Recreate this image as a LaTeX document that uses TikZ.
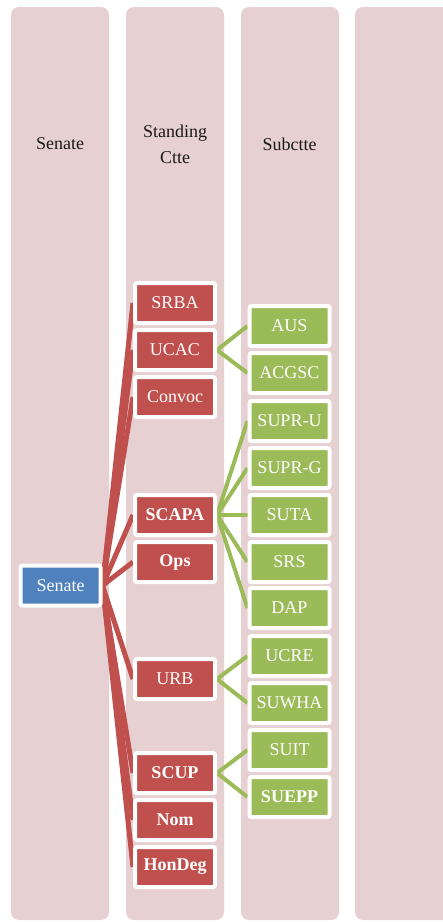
\documentclass[tikz,border=0pt]{standalone}
\usepackage{fontspec}
\setmainfont{Liberation Serif}
\definecolor{colbg}{HTML}{E7D0D1}
\definecolor{rfill}{HTML}{C0504D}
\definecolor{gfill}{HTML}{9BBB59}
\definecolor{bfill}{HTML}{4F81BD}
\pgfdeclarelayer{bgcols}
\pgfdeclarelayer{bglines}
\pgfsetlayers{bgcols,bglines,main}
\begin{document}
\begin{tikzpicture}[x=1pt,y=-1pt,
  colbox/.style={fill=colbg, rounded corners=8pt},
  hdr/.style={font=\fontsize{18}{26}\selectfont, text=black!90, align=center},
  box/.style={draw=white, line width=4pt, minimum width=80pt, minimum height=40pt,
     inner sep=0pt, rounded corners=2pt, text=white, font=\fontsize{18}{20}\selectfont},
  rnode/.style={box, fill=rfill},
  gnode/.style={box, fill=gfill},
  bnode/.style={box, fill=bfill},
  bf/.style={font=\fontsize{18}{20}\selectfont\bfseries},
  rline/.style={draw=rfill, line width=5pt},
  gline/.style={draw=gfill, line width=4pt}]
\useasboundingbox (0,0) rectangle (443,922);
\clip (0,0) rectangle (443,922);
\begin{pgfonlayer}{bgcols}
\fill[colbox] (11,7) rectangle (109,920);
\fill[colbox] (126,7) rectangle (224,920);
\fill[colbox] (241,7) rectangle (339,920);
\fill[colbox] (355,7) rectangle (453,920);
\end{pgfonlayer}
\node[hdr] (h1) at (60,144) {Senate};
\node[hdr] (h2) at (175,144) {Standing\\Ctte};
\node[hdr] (h3) at (289.5,144) {Subctte};
% blue
\node[bnode] (senate) at (60.5,585.5) {Senate};
% red
\node[rnode] (srba) at (175,303) {SRBA};
\node[rnode] (ucac) at (175,350) {UCAC};
\node[rnode] (convoc) at (175,397) {Convoc};
\node[rnode,bf] (scapa) at (175,515) {SCAPA};
\node[rnode,bf] (ops) at (175,562) {Ops};
\node[rnode] (urb) at (175,679) {URB};
\node[rnode,bf] (scup) at (175,773) {SCUP};
\node[rnode,bf] (nom) at (175,820) {Nom};
\node[rnode,bf] (hondeg) at (175,867) {HonDeg};
% green
\node[gnode] (aus) at (289.5,326) {AUS};
\node[gnode] (acgsc) at (289.5,373) {ACGSC};
\node[gnode] (supru) at (289.5,421) {SUPR-U};
\node[gnode] (suprg) at (289.5,468) {SUPR-G};
\node[gnode] (suta) at (289.5,515) {SUTA};
\node[gnode] (srs) at (289.5,562) {SRS};
\node[gnode] (dap) at (289.5,608) {DAP};
\node[gnode] (ucre) at (289.5,656) {UCRE};
\node[gnode] (suwha) at (289.5,703) {SUWHA};
\node[gnode] (suit) at (289.5,750) {SUIT};
\node[gnode,bf] (suepp) at (289.5,797) {SUEPP};
\begin{pgfonlayer}{bglines}
\foreach \n in {srba,ucac,convoc,scapa,ops,urb,scup,nom,hondeg}
  \draw[rline] (senate.east) -- (\n.west);
\foreach \p/\c in {ucac/aus,ucac/acgsc,scapa/supru,scapa/suprg,scapa/suta,scapa/srs,scapa/dap,urb/ucre,urb/suwha,scup/suit,scup/suepp}
  \draw[gline] (\p.east) -- (\c.west);
\end{pgfonlayer}
\end{tikzpicture}
\end{document}
